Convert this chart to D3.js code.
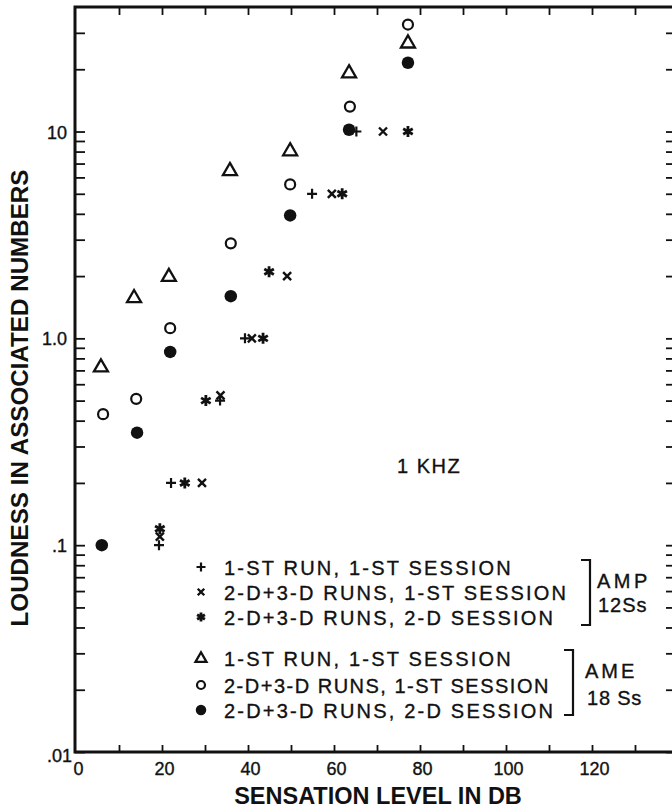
<!DOCTYPE html>
<html><head><meta charset="utf-8">
<script src="https://cdn.jsdelivr.net/npm/d3@7"></script>
<style>body{margin:0;background:#fff}svg{display:block}</style>
</head><body>
<svg id="chart" width="672" height="808"></svg>
<script>
// ---- data (x = sensation level dB, y = loudness) ----
const ampPlus     = [[19.3,0.10],[22.1,0.20],[33.5,0.50],[39.3,1.0],[54.9,5.0],[65.2,10.0]];
const ampTimes    = [[19.5,0.11],[29.3,0.20],[33.6,0.53],[40.9,1.0],[49.1,2.0],[59.5,5.0],[71.4,10.0]];
const ampStar     = [[19.5,0.12],[25.3,0.20],[30.2,0.50],[43.5,1.0],[44.9,2.1],[61.9,5.0],[77.2,10.0]];
const ameTriangle = [[5.8,0.73],[13.5,1.58],[21.6,2.0],[35.8,6.5],[49.8,8.1],[63.5,19.3],[77.2,26.9]];
const ameOpen     = [[6.3,0.43],[14.0,0.51],[21.9,1.12],[36.0,2.88],[49.8,5.55],[63.7,13.2],[77.2,32.9]];
const ameFilled   = [[6.0,0.10],[14.2,0.35],[21.9,0.86],[36.0,1.6],[49.8,3.93],[63.5,10.2],[77.2,21.5]];

const xTickValues = [0,20,40,60,80,100,120];
const xTickLabels = ["0","20","40","60","80","100","120"];
const yTickValues = [10,1,0.1,0.01];
const yTickLabels = ["10","1.0",".1",".01"];

const legendLabels = [
  "1-ST RUN, 1-ST SESSION",
  "2-D+3-D RUNS, 1-ST SESSION",
  "2-D+3-D RUNS, 2-D SESSION",
  "1-ST RUN, 1-ST SESSION",
  "2-D+3-D RUNS, 1-ST SESSION",
  "2-D+3-D RUNS, 2-D SESSION"
];
const legendSymbols = ["plus","times","star","triangle","open","filled"];
const groupLabels = [["AMP","12Ss"],["AME","18 Ss"]];

// ---- layout ----
const svg = d3.select("#chart");
const FONT = "'Liberation Sans', Arial, sans-serif";
const INK = "#111";
const x = d3.scaleLinear().domain([0,140]).range([76,678]);
const y = d3.scaleLog().domain([0.01,40]).range([752,7]);
const X0 = 75, YB = 752, YT = 7, XR = x(140);

svg.append("rect").attr("width",672).attr("height",808).attr("fill","#fff");

const yMinor = y.ticks().filter(v => v < 40);
const xMinor = d3.range(10,140,10);

function cleanAxis(g){ g.select(".domain").remove(); g.selectAll("line").attr("stroke",INK).attr("stroke-width",1.8); }

svg.append("g").attr("transform",`translate(${X0},0)`)
  .call(d3.axisRight(y).tickValues(yMinor).tickSize(10).tickFormat(""))
  .call(cleanAxis);
svg.append("g").attr("transform",`translate(${XR},0)`)
  .call(d3.axisLeft(y).tickValues(yMinor).tickSize(12).tickFormat(""))
  .call(cleanAxis);
svg.append("g").attr("transform",`translate(0,${YB})`)
  .call(d3.axisTop(x).tickValues(xMinor).tickSize(7).tickFormat(""))
  .call(cleanAxis);
svg.append("g").attr("transform",`translate(0,${YT})`)
  .call(d3.axisBottom(x).tickValues(xMinor).tickSize(8).tickFormat(""))
  .call(cleanAxis);

// frame
svg.append("path")
  .attr("d",`M${X0},${YT}V${YB}H${XR}V${YT}Z`)
  .attr("fill","none").attr("stroke",INK).attr("stroke-width",3);

function ink(t, size){
  return t.attr("font-family",FONT).attr("font-size",size).attr("fill",INK)
    .attr("stroke",INK).attr("stroke-width",0.35);
}

// tick labels
ink(svg.append("g").selectAll("text").data(yTickValues).join("text")
  .attr("x",(d,i)=> i===3 ? 72 : 67)
  .attr("y",(d,i)=> i===3 ? 762 : y(d)+7)
  .attr("text-anchor","end"), 18)
  .text((d,i)=>yTickLabels[i]);

ink(svg.append("g").selectAll("text").data(xTickValues).join("text")
  .attr("x",d=>x(d)+2.5).attr("y",775)
  .attr("text-anchor","middle"), 18)
  .text((d,i)=>xTickLabels[i]);

// axis titles
svg.append("text").attr("transform","translate(28,398) rotate(-90)")
  .attr("text-anchor","middle").attr("font-family",FONT).attr("font-weight","bold")
  .attr("font-size",24.2).attr("fill",INK).text("LOUDNESS IN ASSOCIATED NUMBERS");
svg.append("text").attr("x",378).attr("y",804)
  .attr("text-anchor","middle").attr("font-family",FONT).attr("font-weight","bold")
  .attr("font-size",23.5).attr("fill",INK).text("SENSATION LEVEL IN DB");

ink(svg.append("text").attr("x",397).attr("y",473).attr("letter-spacing",1.5), 20).text("1 KHZ");

// ---- marker drawing ----
function marker(sel, type, s){
  if(type==="triangle"){
    const h = s*0.866;
    sel.append("path").attr("d",`M0,${-h*0.6}L${s/2},${h*0.4}L${-s/2},${h*0.4}Z`)
      .attr("fill","#fff").attr("stroke",INK).attr("stroke-width",2.3).attr("stroke-linejoin","miter");
  } else if(type==="open"){
    sel.append("circle").attr("r",s/2).attr("fill","#fff").attr("stroke",INK).attr("stroke-width",2.2);
  } else if(type==="filled"){
    sel.append("circle").attr("r",s/2).attr("fill",INK);
  } else if(type==="plus"){
    const a=s/2;
    sel.append("path").attr("d",`M${-a},0H${a}M0,${-a}V${a}`).attr("stroke",INK).attr("stroke-width",2.2).attr("fill","none");
  } else if(type==="times"){
    const a=s/2;
    sel.append("path").attr("d",`M${-a},${-a}L${a},${a}M${a},${-a}L${-a},${a}`).attr("stroke",INK).attr("stroke-width",2.4).attr("fill","none");
  } else if(type==="star"){
    const a=s/2, b=a*0.87, c=a*0.5;
    sel.append("path").attr("d",`M0,${-a}V${a}M${-b},${-c}L${b},${c}M${b},${-c}L${-b},${c}`).attr("stroke",INK).attr("stroke-width",2.8).attr("fill","none");
  }
}

const plotSeries = [
  [ameTriangle,"triangle",14],
  [ameOpen,"open",10],
  [ameFilled,"filled",12.5],
  [ampPlus,"plus",10],
  [ampTimes,"times",8],
  [ampStar,"star",11]
];
plotSeries.forEach(([data,type,size])=>{
  svg.append("g").selectAll("g").data(data).join("g")
    .attr("transform",d=>`translate(${x(d[0])},${y(d[1])})`)
    .each(function(){ marker(d3.select(this),type,size); });
});

// ---- legend ----
const legRows = [567,592,617,658,685,710];
const legSpacing = [2.2,2.2,2.2,2.2,1.5,2.2];
const legSizes = {plus:9,times:6.5,star:9,triangle:11,open:8,filled:10.5};
legendLabels.forEach((lab,i)=>{
  const g = svg.append("g").attr("transform",`translate(201,${legRows[i]})`);
  marker(g, legendSymbols[i], legSizes[legendSymbols[i]]);
  ink(svg.append("text").attr("x",224).attr("y",legRows[i]+7.5)
    .attr("letter-spacing",legSpacing[i]), 20)
    .text(lab);
});

// brackets
const brackets = [[590,560,625],[573,650,715]];
brackets.forEach(([bx,y1,y2])=>{
  svg.append("path").attr("d",`M${bx-9},${y1}H${bx}V${y2}H${bx-9}`)
    .attr("fill","none").attr("stroke",INK).attr("stroke-width",2.2);
});
ink(svg.append("text").attr("x",597).attr("y",588).attr("letter-spacing",3.5), 20).text(groupLabels[0][0]);
ink(svg.append("text").attr("x",598).attr("y",612).attr("letter-spacing",1), 20).text(groupLabels[0][1]);
ink(svg.append("text").attr("x",585).attr("y",678).attr("letter-spacing",3), 20).text(groupLabels[1][0]);
ink(svg.append("text").attr("x",587).attr("y",705).attr("letter-spacing",0.8)
  .attr("xml:space","preserve").style("white-space","pre"), 20).text(groupLabels[1][1]);
</script>
</body></html>
